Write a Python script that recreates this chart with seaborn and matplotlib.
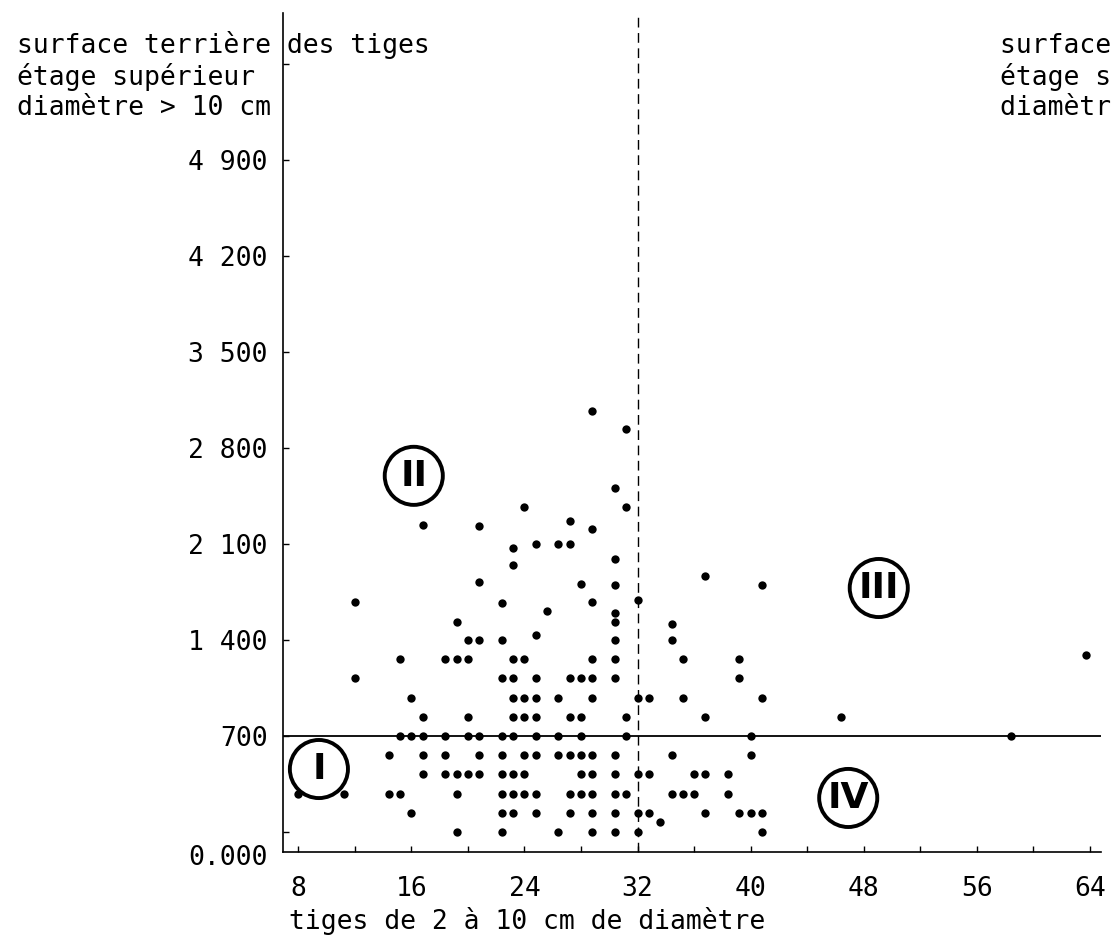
import pandas as pd
import seaborn as sns
import matplotlib.pyplot as plt

# points isolés (hors des rangées régulières)
tiges_isoles = [28.8, 31.2, 30.4, 24.0, 31.2, 27.2, 16.8, 20.8, 28.8, 24.8,
                26.4, 27.2, 23.2, 30.4, 23.2, 36.8, 20.8, 28.0, 30.4, 40.8,
                32.0, 22.4, 28.8, 12.0, 25.6, 30.4, 30.4, 19.2, 34.4, 24.8,
                63.7, 33.6]
surface_isoles = [3070, 2940, 2510, 2370, 2370, 2270, 2240, 2230, 2210, 2100,
                  2100, 2100, 2070, 1990, 1950, 1870, 1820, 1810, 1800, 1800,
                  1690, 1670, 1680, 1680, 1610, 1600, 1530, 1530, 1520, 1440,
                  1290, 70]

# rangées de points (surface terrière commune)
niveaux = [1400, 1260, 1120, 980, 840, 700, 560, 420, 280, 140, 0]
tiges_par_niveau = [
    [20.0, 20.8, 22.4, 30.4, 34.4],
    [15.2, 18.4, 19.2, 20.0, 23.2, 24.0, 28.8, 30.4, 35.2, 39.2],
    [12.0, 22.4, 23.2, 24.8, 27.2, 28.0, 28.8, 30.4, 39.2],
    [16.0, 23.2, 24.0, 24.8, 26.4, 28.8, 32.0, 32.8, 35.2, 40.8],
    [16.8, 20.0, 23.2, 24.0, 24.8, 27.2, 28.0, 31.2, 36.8, 46.4],
    [15.2, 16.0, 16.8, 18.4, 20.0, 20.8, 22.4, 23.2, 24.8, 26.4, 28.0, 31.2, 40.0, 58.4],
    [14.4, 16.8, 18.4, 20.8, 22.4, 24.0, 24.8, 26.4, 27.2, 28.0, 28.8, 30.4, 34.4, 40.0],
    [16.8, 18.4, 19.2, 20.0, 20.8, 22.4, 23.2, 24.0, 28.0, 28.8, 30.4, 32.0, 32.8, 36.0, 36.8, 38.4],
    [8.0, 11.2, 14.4, 15.2, 19.2, 22.4, 23.2, 24.0, 24.8, 27.2, 28.0, 28.8, 30.4, 31.2, 34.4, 35.2, 36.0, 38.4],
    [16.0, 22.4, 23.2, 24.8, 27.2, 28.8, 30.4, 32.0, 32.8, 36.8, 39.2, 40.0, 40.8],
    [19.2, 22.4, 26.4, 28.8, 30.4, 32.0, 40.8],
]

x_ticks = [8, 16, 24, 32, 40, 48, 56, 64]
y_ticks = [0, 700, 1400, 2100, 2800, 3500, 4200, 4900, 5600]
y_labels = ["", "700", "1 400", "2 100", "2 800", "3 500", "4 200", "4 900", ""]

titre_y = "surface terrière des tiges\nétage supérieur\ndiamètre > 10 cm"
titre_x = "tiges de 2 à 10 cm de diamètre"

rows = [(x, y) for y, xs in zip(niveaux, tiges_par_niveau) for x in xs]
rows += list(zip(tiges_isoles, surface_isoles))
df = pd.DataFrame(rows, columns=["tiges", "surface"])

sns.set_theme(style="white")
plt.rcParams["font.family"] = ["DejaVu Sans Mono", "DejaVu Sans"]
FS = 19

fig = plt.figure(figsize=(11.11, 9.36), dpi=100)
ax = fig.add_axes([283 / 1111, 84 / 936, 818 / 1111, 839 / 936])

sns.scatterplot(data=df, x="tiges", y="surface", color="black", s=36,
                linewidth=0, ax=ax, zorder=3, legend=False)
ax.axhline(700, color="black", lw=1.3, zorder=1)
ax.axvline(32, color="black", lw=1.0, ls=(0, (7, 4)), zorder=1)

ax.set_xlim(6.92, 64.78)
ax.set_ylim(-146, 5972)

ax.set_xticks(x_ticks)
ax.set_xticklabels([str(v) for v in x_ticks])
ax.set_xticks([12, 20, 28, 36, 44, 52, 60], minor=True)
ax.set_yticks(y_ticks)
ax.set_yticklabels(y_labels)
ax.tick_params(axis="both", which="both", direction="in", length=4, width=1,
               colors="black", labelsize=FS, bottom=True, left=True)
ax.tick_params(axis="x", pad=17)
ax.tick_params(axis="y", pad=11)

sns.despine(ax=ax)
for side in ["left", "bottom"]:
    ax.spines[side].set_color("black")
    ax.spines[side].set_linewidth(1.2)

ax.annotate("0.000", xy=(0, 0), xycoords=("axes fraction", "data"),
            xytext=(-11, -19), textcoords="offset points",
            ha="right", va="center", fontsize=FS, color="black")

ax.set_xlabel(titre_x, fontsize=FS, color="black")
ax.xaxis.set_label_coords(0.298, -0.066)
ax.set_ylabel("")

# texte de l'axe vertical (et début de celui du graphique voisin, coupé à droite)
fig.text(17 / 1111, 1 - 31 / 936, titre_y, ha="left", va="top",
         fontsize=FS, color="black", linespacing=1.18)
fig.text(1000 / 1111, 1 - 31 / 936, titre_y, ha="left", va="top",
         fontsize=FS, color="black", linespacing=1.18)

# zones I à IV
zones = [("I", 9.46, 459), ("II", 16.17, 2597), ("III", 49.06, 1779), ("IV", 46.9, 248)]
for nom, zx, zy in zones:
    ax.scatter([zx], [zy], s=1750, facecolors="none", edgecolors="black",
               linewidths=2.8, zorder=2)
    ax.text(zx, zy, nom, ha="center", va="center", fontsize=26,
            fontweight="bold", family="DejaVu Sans", color="black", zorder=2)

fig.savefig("out.png", dpi=100)
